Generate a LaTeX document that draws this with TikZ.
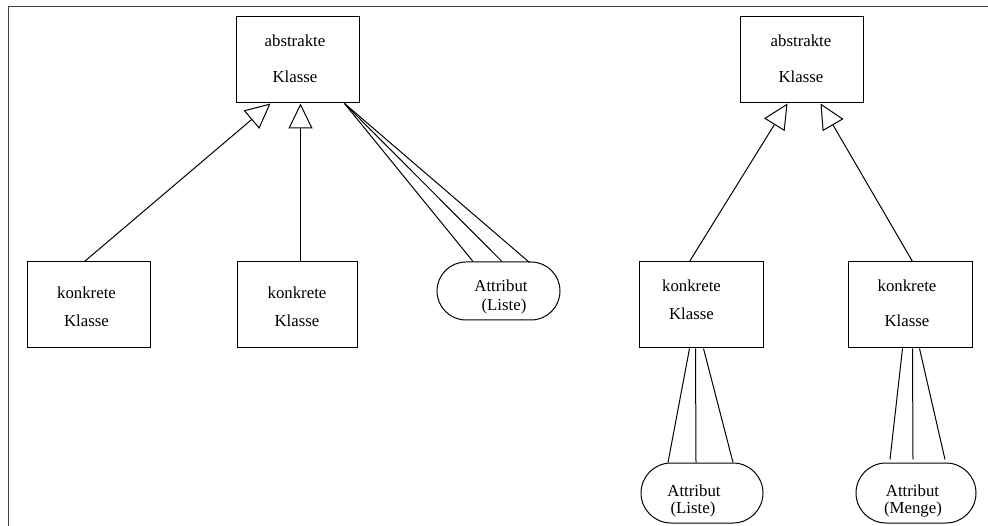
\documentclass[tikz,border=0pt]{standalone}
\usepackage{fontspec}
\setmainfont{Liberation Serif}
\usetikzlibrary{arrows.meta,calc,shapes.misc}
\begin{document}
\begin{tikzpicture}[x=1pt,y=-1pt,
  font=\fontsize{16.8}{20}\selectfont,
  box/.style={draw,line width=1pt,rectangle,inner sep=0pt,minimum height=86pt},
  attr/.style={draw,line width=1pt,rounded rectangle,inner sep=0pt},
  txt/.style={anchor=base,inner sep=0pt},
  conn/.style={line width=1pt},
  inh/.style={line width=1pt,-{Triangle[open,length=25pt,width=24pt]}},
  frameline/.style={line width=1.5pt,draw=black!75}]
\useasboundingbox (0,0) rectangle (988,526);
\draw[frameline] (8.5,526) -- (8.5,6.5) -- (988,6.5);

% boxes
\node[box,minimum width=123pt] (absL) at (297.5,60) {};
\node[box,minimum width=123pt] (absR) at (801.5,60) {};
\node[box,minimum width=123pt] (k1) at (88.5,305) {};
\node[box,minimum width=120pt] (k2) at (297,305) {};
\node[box,minimum width=124pt] (kR1) at (701,305) {};
\node[box,minimum width=124pt] (kR2) at (910,305) {};
\node[attr,minimum width=123pt,minimum height=58pt] (attrL) at (498.5,291) {};
\node[attr,minimum width=122pt,minimum height=60pt] (attrBL) at (702,493) {};
\node[attr,minimum width=120pt,minimum height=60pt] (attrBR) at (916,493) {};

% texts
\node[txt] (tA1) at (295,46.5) {abstrakte};
\node[txt] (tA2) at (295,82.5) {Klasse};
\node[txt] (tB1) at (801,46.5) {abstrakte};
\node[txt] (tB2) at (801,82.5) {Klasse};
\node[txt] (tK11) at (86.5,298.5) {konkrete};
\node[txt] (tK12) at (86.5,326.5) {Klasse};
\node[txt] (tK21) at (297,298.5) {konkrete};
\node[txt] (tK22) at (297,326.5) {Klasse};
\node[txt] (tL1) at (501,291.5) {Attribut};
\node[txt] (tL2) at (504,311) {(Liste)};
\node[txt] (tR11) at (691.5,291.5) {konkrete};
\node[txt] (tR12) at (691.5,320) {Klasse};
\node[txt] (tR21) at (907,291.5) {konkrete};
\node[txt] (tR22) at (907,326.5) {Klasse};
\node[txt] (tBL1) at (694,496) {Attribut};
\node[txt] (tBL2) at (693,513) {(Liste)};
\node[txt] (tBR1) at (912.5,496) {Attribut};
\node[txt] (tBR2) at (913,513) {(Menge)};

% inheritance
\draw[inh] ($(k1.north west)+(58,0)$) -- ($(absL.south west)+(35,0)$);
\draw[inh] ($(k2.north west)+(64,0)$) -- ($(absL.south west)+(65,0)$);
\draw[inh] ($(kR1.north west)+(51,0)$) -- ($(absR.south west)+(48,0)$);
\draw[inh] ($(kR2.north west)+(65,0)$) -- ($(absR.south west)+(81,0)$);

% attribute links (left)
\coordinate (aL) at ($(absL.south west)+(109,0)$);
\draw[conn] (aL) -- ($(attrL.north)+(-25.5,0)$);
\draw[conn] (aL) -- ($(attrL.north)+(3.5,0)$);
\draw[conn] (aL) -- ($(attrL.north)+(31,1)$);

% attribute links (right)
\draw[conn] ($(kR1.south west)+(51,0)$) -- ($(attrBL.north)+(-34,0)$);
\draw[conn] ($(kR1.south west)+(57,0)$) -- ($(attrBL.north)+(-6,0)$);
\draw[conn] ($(kR1.south west)+(65,0)$) -- ($(attrBL.north)+(31,0)$);
\draw[conn] ($(kR2.south west)+(55,0)$) -- ($(attrBR.north)+(-26,-3)$);
\draw[conn] ($(kR2.south west)+(65,0)$) -- ($(attrBR.north)+(-3,-3)$);
\draw[conn] ($(kR2.south west)+(72,0)$) -- ($(attrBR.north)+(29,-3)$);
\end{tikzpicture}
\end{document}
